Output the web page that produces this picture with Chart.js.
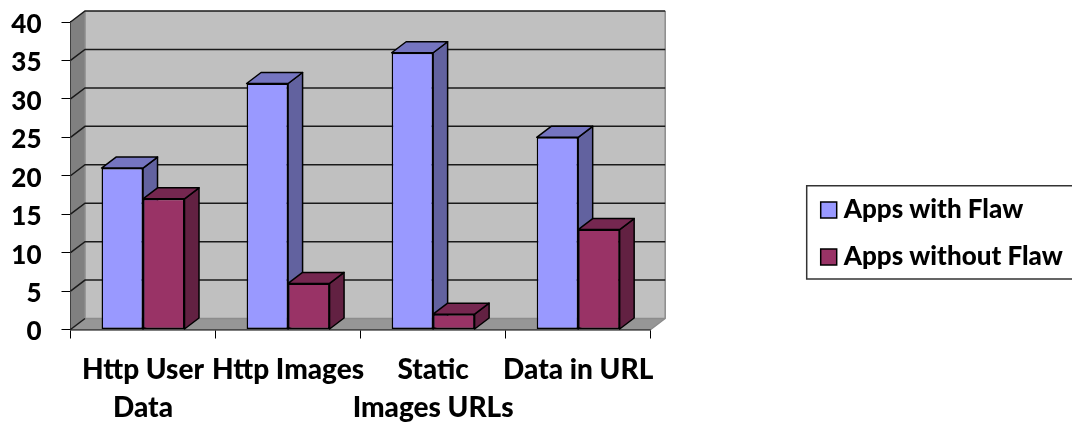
<!DOCTYPE html>
<html>
<head>
<meta charset="utf-8">
<title>Apps with and without flaw</title>
<script src="https://cdn.jsdelivr.net/npm/chart.js@4"></script>
<style>
  body { margin: 0; background: #fff; }
  canvas { display: block; }
</style>
</head>
<body>
<canvas id="myChart" width="1072" height="423"></canvas>
<script>
let categories = [["Http User", "Data"], "Http Images", ["Static", "Images URLs"], "Data in URL"];
let appsWithFlaw = [21, 32, 36, 25];
let appsWithoutFlaw = [17, 6, 2, 13];
let yTicks = [0, 5, 10, 15, 20, 25, 30, 35, 40];

// how far the back of the box sits from the front plane
const depthX = 14.5;
const depthY = -11;

function poly(ctx, pts, fill, stroke, width) {
  ctx.beginPath();
  pts.forEach(function(p, i) {
    if (i == 0) ctx.moveTo(p[0], p[1]);
    else ctx.lineTo(p[0], p[1]);
  });
  ctx.closePath();
  if (fill) {
    ctx.fillStyle = fill;
    ctx.fill();
  }
  if (stroke) {
    ctx.strokeStyle = stroke;
    ctx.lineWidth = width || 1;
    ctx.lineJoin = "round";
    ctx.stroke();
  }
}

// back wall, side wall, floor and the gridlines on them
const box3d = {
  id: "box3d",
  beforeDatasetsDraw(chart) {
    const ctx = chart.ctx;
    const a = chart.chartArea;
    const y = chart.scales.y;
    ctx.save();
    poly(ctx, [[a.left + depthX, a.top + depthY], [a.right + depthX, a.top + depthY], [a.right + depthX, a.bottom + depthY], [a.left + depthX, a.bottom + depthY]], "#c0c0c0");
    poly(ctx, [[a.left, a.top], [a.left + depthX, a.top + depthY], [a.left + depthX, a.bottom + depthY], [a.left, a.bottom]], "#808080");
    poly(ctx, [[a.left, a.bottom], [a.left + depthX, a.bottom + depthY], [a.right + depthX, a.bottom + depthY], [a.right, a.bottom]], "#969696");

    ctx.strokeStyle = "#8c8c8c";
    ctx.lineWidth = 1.5;
    ctx.beginPath();
    ctx.moveTo(a.right, a.bottom);
    ctx.lineTo(a.right + depthX, a.bottom + depthY);
    ctx.lineTo(a.right + depthX, a.top + depthY);
    ctx.moveTo(a.left + depthX, a.bottom + depthY);
    ctx.lineTo(a.right + depthX, a.bottom + depthY);
    ctx.moveTo(a.left + depthX, a.bottom + depthY);
    ctx.lineTo(a.left + depthX, a.top + depthY);
    ctx.stroke();

    ctx.strokeStyle = "#1a1a1a";
    ctx.lineWidth = 1.5;
    y.ticks.forEach(function(t) {
      const py = y.getPixelForValue(t.value);
      ctx.beginPath();
      ctx.moveTo(a.left, py);
      ctx.lineTo(a.left + depthX, py + depthY);
      if (t.value > 0) ctx.lineTo(a.right + depthX, py + depthY);
      ctx.stroke();
    });

    // side and top faces, the fronts are the library's own bars
    chart.data.datasets.forEach(function(ds, i) {
      chart.getDatasetMeta(i).data.forEach(function(bar) {
        const p = bar.getProps(["x", "y", "base", "width"], true);
        const l = p.x - p.width / 2;
        const r = p.x + p.width / 2;
        poly(ctx, [[r, p.y], [r + depthX, p.y + depthY], [r + depthX, p.base + depthY], [r, p.base]], ds.sideColor, "#000", 1.5);
        poly(ctx, [[l, p.y], [l + depthX, p.y + depthY], [r + depthX, p.y + depthY], [r, p.y]], ds.topColor, "#000", 1.5);
      });
    });
    ctx.restore();
  }
};

// the legend sits in its own frame right of the plot
const legendFrame = {
  id: "legendFrame",
  afterLayout(chart) {
    const l = chart.legend;
    const w = l.right - l.left;
    const h = l.bottom - l.top;
    l.left = 805.7;
    l.right = l.left + w;
    l.top = 176;
    l.bottom = l.top + h;
  },
  beforeDraw(chart) {
    const ctx = chart.ctx;
    ctx.save();
    ctx.strokeStyle = "#333";
    ctx.lineWidth = 1.5;
    ctx.beginPath();
    ctx.moveTo(1072, 185.7);
    ctx.lineTo(806.7, 185.7);
    ctx.lineTo(806.7, 279);
    ctx.lineTo(1072, 279);
    ctx.stroke();
    ctx.restore();
  }
};

function createGraphs() {
  const ctx = document.getElementById("myChart").getContext("2d");
  const chart = new Chart(ctx, {
    type: "bar",
    data: {
      labels: categories,
      datasets: [{
        label: "Apps with Flaw",
        data: appsWithFlaw,
        backgroundColor: "#9999ff",
        sideColor: "#62629f",
        topColor: "#7575c0",
        borderColor: "#000",
        borderWidth: 1.5,
        borderSkipped: false,
        categoryPercentage: 0.572,
        barPercentage: 1
      }, {
        label: "Apps without Flaw",
        data: appsWithoutFlaw,
        backgroundColor: "#993366",
        sideColor: "#622142",
        topColor: "#752750",
        borderColor: "#000",
        borderWidth: 1.5,
        borderSkipped: false,
        categoryPercentage: 0.572,
        barPercentage: 1
      }]
    },
    options: {
      responsive: false,
      animation: false,
      layout: {
        autoPadding: false,
        padding: { left: 0, top: 22, right: 421.3, bottom: 0 }
      },
      plugins: {
        tooltip: { enabled: false },
        legend: {
          position: "chartArea",
          align: "start",
          labels: {
            usePointStyle: true,
            pointStyle: "rect",
            boxWidth: 4,
            boxHeight: 16,
            padding: 21,
            color: "#000",
            font: { family: "Lato", weight: 900, size: 26, lineHeight: 1 }
          }
        }
      },
      scales: {
        x: {
          afterFit(scale) {
            scale.height = 93.5;
            scale.paddingLeft = 0;
            scale.paddingRight = 0;
          },
          grid: { drawOnChartArea: false, tickLength: 9, color: "#000" },
          border: { color: "#000", width: 1.5 },
          ticks: {
            autoSkip: false,
            maxRotation: 0,
            minRotation: 0,
            padding: 12,
            color: "#000",
            font: { family: "Lato", weight: 900, size: 28, lineHeight: 1.36 }
          }
        },
        y: {
          min: 0,
          max: 40,
          afterFit(scale) {
            scale.width = 70.5;
            scale.paddingTop = 0;
            scale.paddingBottom = 0;
          },
          afterBuildTicks(scale) { scale.ticks = yTicks.map(function(v) { return { value: v }; }); },
          grid: { drawOnChartArea: false, tickLength: 9, color: "#000" },
          border: { color: "#000", width: 1.5 },
          ticks: {
            padding: 20,
            labelOffset: 2.5,
            color: "#000",
            font: { family: "Lato", weight: 900, size: 26 }
          }
        }
      }
    },
    plugins: [box3d, legendFrame]
  });
}

createGraphs();
</script>
</body>
</html>
